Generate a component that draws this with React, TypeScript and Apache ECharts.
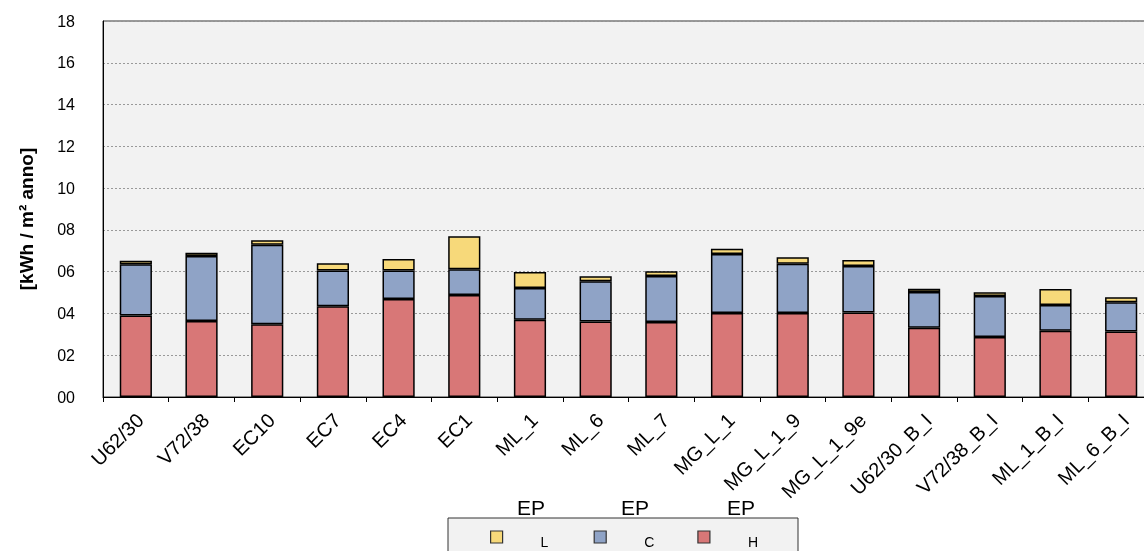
import React, { useEffect, useRef } from "react";
import * as echarts from "echarts";

const categories = [
  "U62/30", "V72/38", "EC10", "EC7", "EC4", "EC1", "ML_1", "ML_6", "ML_7",
  "MG_L_1", "MG_L_1_9", "MG_L_1_9e", "U62/30_B_I", "V72/38_B_I", "ML_1_B_I", "ML_6_B_I",
];
const seriesH = [3.9, 3.64, 3.48, 4.34, 4.69, 4.88, 3.7, 3.62, 3.59, 4.02, 4.02, 4.04, 3.32, 2.87, 3.17, 3.13];
const seriesC = [2.45, 3.11, 3.81, 1.71, 1.37, 1.23, 1.52, 1.92, 2.2, 2.83, 2.36, 2.23, 1.71, 1.96, 1.23, 1.4];
const seriesL = [0.17, 0.16, 0.21, 0.35, 0.55, 1.58, 0.76, 0.24, 0.23, 0.25, 0.31, 0.29, 0.15, 0.18, 0.77, 0.24];
const legendNames = ["L", "C", "H"];
const legendPrefix = "EP";
const yTitle = "[kWh / m\u00b2 anno]";

const COLORS: Record<string, string> = { H: "#d87777", C: "#8fa3c6", L: "#f7d97a" };
const FONT = "'Liberation Sans', Arial, sans-serif";

export default function App() {
  const ref = useRef<HTMLDivElement>(null);
  useEffect(() => {
    if (!ref.current) return;
    const chart = echarts.init(ref.current, undefined, { renderer: "svg" });
    const mk = (name: string, data: number[]) => ({
      name,
      type: "bar",
      stack: "total",
      data,
      barWidth: "49%",
      itemStyle: { color: COLORS[name], borderColor: "#000", borderWidth: 1.5 },
    });
    const epText = (x: number) => ({
      type: "text", x, y: 507,
      style: { text: legendPrefix, fontSize: 21, fill: "#000", fontFamily: FONT, align: "center", verticalAlign: "middle" },
    });
    chart.setOption({
      animation: false,
      textStyle: { fontFamily: FONT },
      grid: {
        left: 103, top: 21, bottom: 154, width: 1051,
        outerBoundsMode: "none",
        containLabel: false,
        show: true, backgroundColor: "#f2f2f2", borderColor: "#333", borderWidth: 1,
      },
      xAxis: {
        type: "category",
        data: categories,
        axisLine: { lineStyle: { color: "#000", width: 1 } },
        axisTick: { show: true, length: 5, lineStyle: { color: "#000" } },
        axisLabel: {
          rotate: 45, interval: 0, fontSize: 20, color: "#000", fontFamily: FONT, margin: 24,
          padding: [13, -6, 0, 0],
        },
      },
      yAxis: {
        type: "value",
        min: 0, max: 18, interval: 2,
        name: yTitle,
        nameLocation: "middle",
        nameGap: 67,
        nameTextStyle: { fontSize: 19, fontWeight: "bold", color: "#000", fontFamily: FONT, padding: [0, 20, 0, 0] },
        axisLine: { show: true, lineStyle: { color: "#000" } },
        axisTick: { show: false },
        axisLabel: {
          fontSize: 16, color: "#000", fontFamily: FONT, margin: 28,
          formatter: (v: number) => String(v).padStart(2, "0"),
        },
        splitLine: { show: true, lineStyle: { color: "#999", type: [2, 2], width: 1 } },
      },
      legend: {
        data: legendNames,
        left: 490, top: 525,
        orient: "horizontal",
        itemWidth: 12, itemHeight: 12, itemGap: 43,
        icon: "rect",
        padding: 0,
        itemStyle: { borderColor: "#333", borderWidth: 1.2 },
        formatter: (name: string) => `{t|${name}}`,
        textStyle: {
          color: "#000", fontFamily: FONT, fontSize: 14,
          rich: { t: { fontSize: 14, fontFamily: FONT, color: "#000", width: 10, lineHeight: 14, padding: [10, 0, 0, 33] } },
        },
      },
      graphic: [
        { type: "rect", z: -1, shape: { x: 448, y: 518, width: 350, height: 60 }, style: { fill: "#f2f2f2", stroke: "#333", lineWidth: 1 } },
        epText(531),
        epText(635),
        epText(741),
      ],
      series: [mk("H", seriesH), mk("C", seriesC), mk("L", seriesL)],
    });
    return () => chart.dispose();
  }, []);
  return <div ref={ref} style={{ position: "fixed", left: 0, top: 0, width: 1144, height: 551 }} />;
}
